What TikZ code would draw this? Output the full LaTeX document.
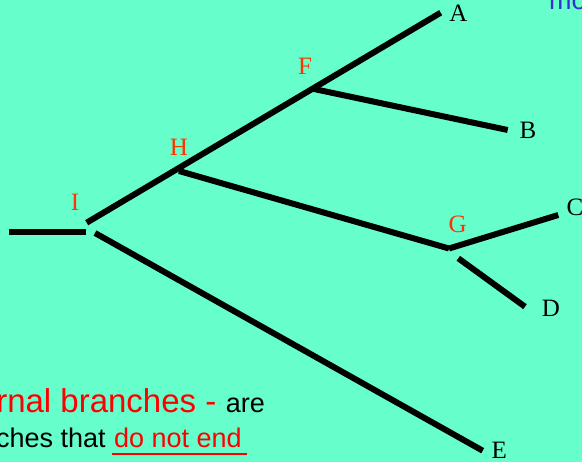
\documentclass[tikz,border=0pt]{standalone}
\usepackage{fontspec}
\setmainfont{Liberation Serif}
\setsansfont{Liberation Sans}
\definecolor{bgaqua}{HTML}{66FFCC}
\definecolor{innerred}{HTML}{FF3300}
\definecolor{noteblue}{HTML}{3333CC}

\begin{document}
\begin{tikzpicture}[
  x=1pt, y=-1pt,
  % Branches
  branch/.style={line width=6pt, draw=black},
  % Tip labels
  tip/.style={font=\fontsize{25}{30}\selectfont, text=black, inner sep=0pt},
  % Internal node labels
  inner/.style={font=\fontsize{25}{30}\selectfont, text=innerred, inner sep=0pt},
  % Note text
  note/.style={font=\sffamily\fontsize{27}{32}\selectfont, inner sep=0pt}
]

% === Canvas ===
\useasboundingbox (0,0) rectangle (582,462);
\fill[bgaqua] (0,0) rectangle (582,462);
\clip (0,0) rectangle (582,462);

% === Branch points ===
\coordinate (rt) at (9,232.5);
\coordinate (i) at (86,232.5);
\coordinate (iup) at (86.7,222.7);
\coordinate (ilow) at (95,233);
\coordinate (h) at (179,171);
\coordinate (f) at (313,88.8);
\coordinate (g) at (449,248.5);
\coordinate (glow) at (458.3,258.3);
\coordinate (a) at (440.7,12.7);
\coordinate (b) at (507.7,130);
\coordinate (c) at (558.3,215);
\coordinate (d) at (525,306.7);
\coordinate (e) at (482.7,450.7);

% === Branches ===
\draw[branch] (rt) -- (i);
\draw[branch] (iup) -- (a);
\draw[branch] (f) -- (b);
\draw[branch] (h) -- (g);
\draw[branch] (g) -- (c);
\draw[branch] (glow) -- (d);
\draw[branch] (ilow) -- (e);

% === Tip labels ===
\node[tip] (la) at (458.3,13.5) {A};
\node[tip] (lb) at (528,130.5) {B};
\node[tip] (lc) at (575,207) {C};
\node[tip] (ld) at (551,308.7) {D};
\node[tip] (le) at (499.3,450) {E};

% === Internal labels ===
\node[inner] (lf) at (305,66.7) {F};
\node[inner] (lh) at (179,147.5) {H};
\node[inner] (li) at (75,202) {I};
\node[inner] (lg) at (457.7,224.3) {G};

% === Note ===
\node[note, anchor=base west, text=noteblue] (more) at (549,10) {mo};
\node[note, anchor=base east] (are) at (265,413) {are};
\node[note, anchor=base east, text=red, font=\sffamily\fontsize{33}{39}\selectfont]
  (internal) at ([xshift=-9pt]are.base west) {rnal branches -};
\node[note, anchor=base east, text=red] (notend) at (242,448) {do not end};
\node[note, anchor=base east] (ches) at ([xshift=-8pt]notend.base west) {ches that};
\draw[red, line width=2pt] ([xshift=-1.5pt,yshift=-6pt]notend.base west) -- ([xshift=5pt,yshift=-6pt]notend.base east);

\end{tikzpicture}
\end{document}
